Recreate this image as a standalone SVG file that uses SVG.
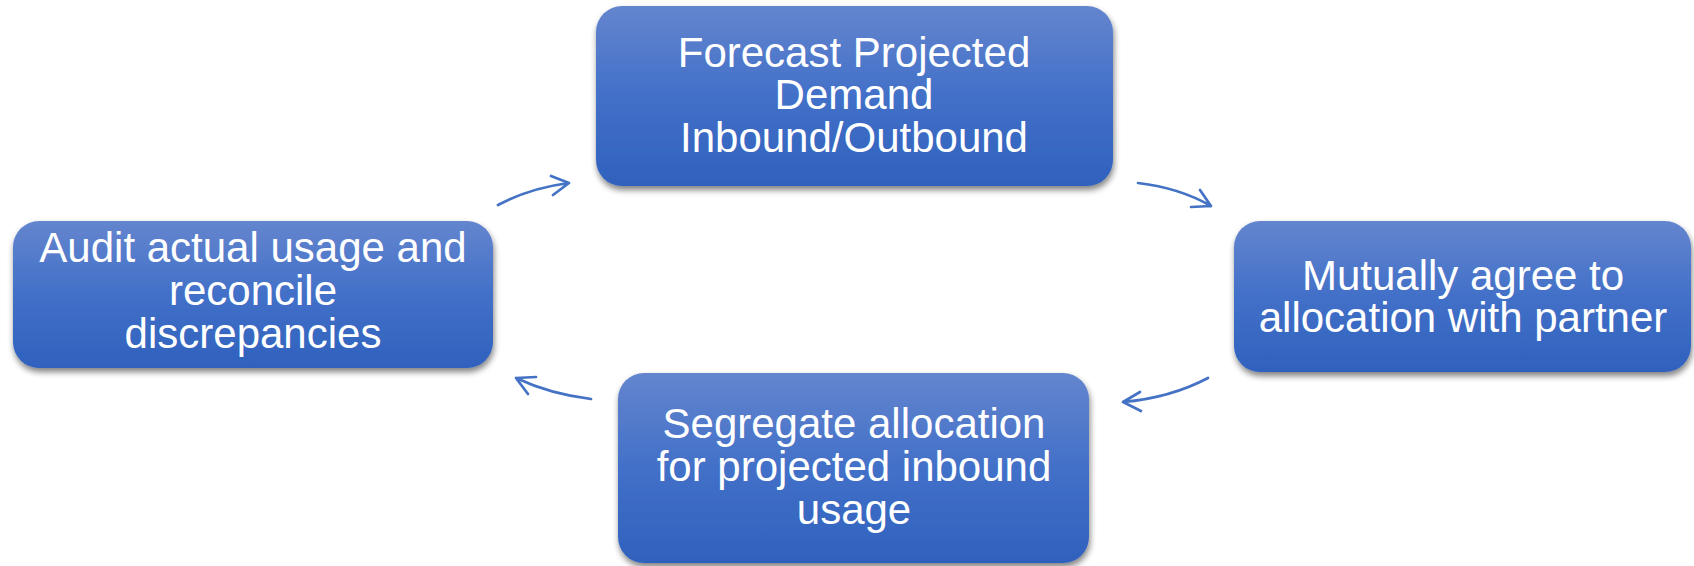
<svg xmlns="http://www.w3.org/2000/svg" width="1694" height="566" viewBox="0 0 1694 566">
<defs>
<linearGradient id="g" x1="0" y1="0" x2="0" y2="1">
<stop offset="0" stop-color="#6485CE"/>
<stop offset="0.5" stop-color="#4270C8"/>
<stop offset="1" stop-color="#2F61BD"/>
</linearGradient>
<filter id="sh" x="-10%" y="-10%" width="120%" height="130%">
<feGaussianBlur in="SourceAlpha" stdDeviation="3"/>
<feOffset dx="1" dy="4" result="b"/>
<feComponentTransfer><feFuncA type="linear" slope="0.5"/></feComponentTransfer>
<feMerge><feMergeNode/><feMergeNode in="SourceGraphic"/></feMerge>
</filter>
</defs>
<style>
.box{fill:url(#g);filter:url(#sh)}
.t{font-family:"Liberation Sans",Arial,sans-serif;font-size:42px;fill:#fff;text-anchor:middle}
.c{fill:none;stroke:#4472C4;stroke-width:2.7;stroke-linecap:round;stroke-linejoin:round}
</style>
<g id="connectors">
<path class="c" d="M498,205 Q530,188 569,183 M551,176 L569,183 L553,195"/>
<path class="c" d="M1138,183 Q1180,188 1211,206 M1200,190 L1211,206 L1191,207"/>
<path class="c" d="M1208,378 Q1170,398 1123,402 M1140,392 L1123,402 L1141,411"/>
<path class="c" d="M591,399 Q550,394 516,378 M536,377 L516,378 L528,394"/>
</g>
<g id="n1">
<rect class="box" x="596" y="6" width="517" height="180" rx="26"/>
<text class="t" x="854" y="67">Forecast Projected</text>
<text class="t" x="854" y="109">Demand</text>
<text class="t" x="854" y="152">Inbound/Outbound</text>
</g>
<g id="n2">
<rect class="box" x="1234" y="221" width="457" height="151" rx="26"/>
<text class="t" x="1463" y="290">Mutually agree to</text>
<text class="t" x="1463" y="332">allocation with partner</text>
</g>
<g id="n3">
<rect class="box" x="618" y="373" width="471" height="190" rx="26"/>
<text class="t" x="854" y="438">Segregate allocation</text>
<text class="t" x="854" y="481">for projected inbound</text>
<text class="t" x="854" y="524">usage</text>
</g>
<g id="n4">
<rect class="box" x="13" y="221" width="480" height="147" rx="26"/>
<text class="t" x="253" y="262">Audit actual usage and</text>
<text class="t" x="253" y="305">reconcile</text>
<text class="t" x="253" y="348">discrepancies</text>
</g>
</svg>
